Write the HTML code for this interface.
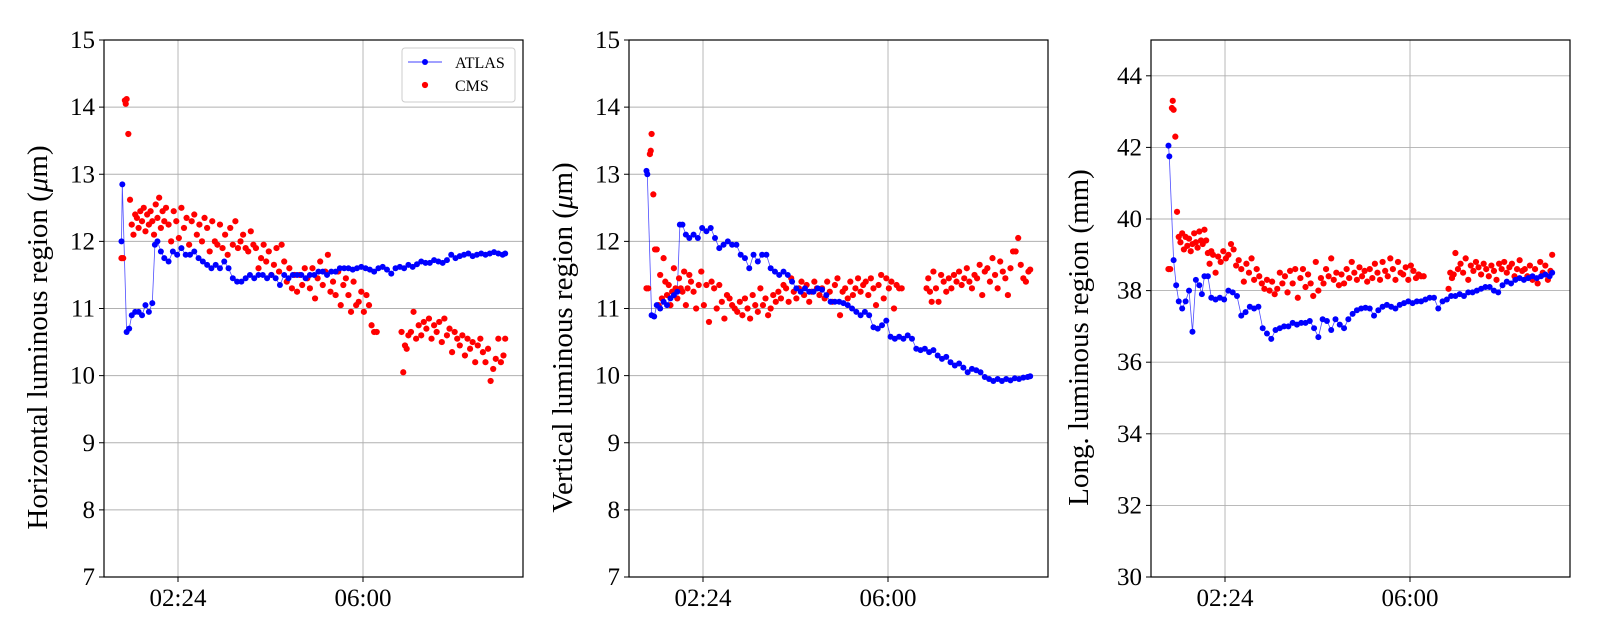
<!DOCTYPE html>
<html><head><meta charset="utf-8"><style>
html,body{margin:0;padding:0;background:#fff;}
svg{display:block;font-family:"Liberation Serif",serif;}
</style></head><body>
<svg id="fig" width="1600" height="640" viewBox="0 0 1600 640" xmlns="http://www.w3.org/2000/svg"></svg>
<script>
// shared time axes (minutes after midnight)
const tA = [78,79,84,87,90,94,98,102,106,110,114,117,120,124,128,
133,138,143,148,153,158,163,168,173,178,183,188,193,198,203,
208,213,218,223,228,233,238,243,248,253,258,263,268,273,278,
283,288,293,298,303,308,313,318,323,328,333,338,343,348,353,
358,363,368,373,378,383,388,393,398,403,408,413,418,423,428,
433,438,443,448,453,458,463,468,473,478,483,488,493,498,503,
508,513,518,523,526];
const cmsT = [78,80,82,83,84,86,88,90,92,94,96,98,100,102,104,106,108,110,112,114,116,118,120,122,124,126,128,130,
133,136,139,142,145,148,151,154,157,160,163,166,169,172,175,178,
181,184,187,190,193,196,199,202,205,208,211,214,217,220,223,226,229,
232,235,238,241,244,247,250,253,256,259,262,265,268,271,274,277,280,
283,286,289,292,295,298,301,304,307,310,313,316,319,322,325,328,331,
334,337,340,343,346,349,352,355,358,361,364,367,370,373,376,
405,407,409,411,413,416,419,422,425,428,431,434,437,440,443,446,449,452,455,458,461,464,467,470,473,476,479,482,485,488,491,494,497,500,503,506,509,512,515,518,521,524,526];

const atlasH = [12.0,12.85,10.65,10.7,10.9,10.95,10.95,10.9,11.05,10.95,11.08,11.95,12.0,11.85,11.75,
11.7,11.85,11.8,11.9,11.8,11.8,11.85,11.75,11.7,11.65,11.6,11.65,11.6,11.7,11.6,
11.45,11.4,11.4,11.45,11.5,11.45,11.5,11.5,11.45,11.5,11.45,11.35,11.5,11.45,11.5,
11.5,11.5,11.45,11.5,11.5,11.55,11.55,11.5,11.55,11.55,11.6,11.6,11.6,11.58,11.6,
11.62,11.6,11.58,11.55,11.6,11.62,11.58,11.52,11.6,11.62,11.6,11.65,11.62,11.66,11.7,
11.68,11.68,11.72,11.7,11.68,11.72,11.8,11.75,11.78,11.8,11.82,11.78,11.8,11.82,11.8,
11.82,11.84,11.82,11.8,11.82];
const cmsH = [11.75,11.75,14.1,14.05,14.12,13.6,12.62,12.25,12.1,12.4,12.35,12.2,12.45,12.3,12.5,12.15,12.4,12.25,12.45,12.3,12.1,12.55,12.35,12.65,12.2,12.45,12.3,12.5,
12.25,12.0,12.45,12.3,12.05,12.5,12.2,12.35,11.95,12.3,12.4,12.1,12.25,12.0,12.35,12.2,
11.85,12.3,12.0,11.95,12.25,11.9,12.1,11.8,12.2,11.95,12.3,11.9,12.0,12.1,11.9,11.85,12.15,
11.95,11.9,11.6,11.75,11.95,11.7,11.85,11.5,11.65,11.9,11.55,11.95,11.7,11.4,11.6,11.3,11.5,
11.25,11.5,11.35,11.6,11.45,11.3,11.6,11.15,11.45,11.7,11.35,11.55,11.8,11.25,11.4,11.2,11.55,
11.05,11.35,11.45,11.2,10.95,11.4,11.05,11.1,11.25,10.95,11.2,11.05,10.75,10.65,10.65,
10.65,10.05,10.45,10.4,10.6,10.65,10.95,10.55,10.75,10.6,10.8,10.7,10.85,10.55,10.75,10.65,10.8,10.5,10.85,10.6,10.7,10.35,10.65,10.55,10.45,10.6,10.3,10.55,10.4,10.5,10.2,10.45,10.55,10.35,10.2,10.4,9.92,10.1,10.25,10.55,10.2,10.3,10.55];

const atlasV = [13.05,13.0,10.9,10.88,11.05,11.0,11.1,11.05,11.15,11.2,11.25,12.25,12.25,12.1,12.05,
12.1,12.05,12.2,12.15,12.2,12.05,11.9,11.95,12.0,11.95,11.95,11.8,11.75,11.6,11.8,
11.7,11.8,11.8,11.6,11.55,11.5,11.55,11.5,11.4,11.3,11.25,11.3,11.25,11.25,11.3,
11.28,11.2,11.1,11.1,11.1,11.08,11.05,11.0,10.95,10.9,10.95,10.9,10.72,10.7,10.75,
10.82,10.58,10.55,10.58,10.55,10.6,10.55,10.4,10.38,10.4,10.35,10.38,10.3,10.25,10.28,
10.2,10.15,10.18,10.12,10.05,10.1,10.08,10.05,9.98,9.95,9.92,9.95,9.92,9.95,9.93,
9.96,9.95,9.97,9.98,9.99];
const cmsV = [11.3,11.3,13.3,13.35,13.6,12.7,11.88,11.88,11.05,11.5,11.15,11.75,11.4,11.2,11.35,11.05,11.25,11.6,11.3,11.15,11.45,11.3,11.25,11.55,11.05,11.3,11.5,11.4,
11.25,11.0,11.35,11.55,11.05,11.35,10.8,11.4,11.3,11.0,11.35,11.1,10.85,11.2,11.15,11.05,
11.0,10.95,11.1,10.9,11.15,11.0,10.85,11.2,11.05,10.95,11.3,11.05,11.15,10.9,11.0,11.2,11.1,
11.25,11.15,11.35,11.3,11.1,11.45,11.25,11.15,11.3,11.4,11.2,11.35,11.1,11.25,11.4,11.3,11.2,
11.3,11.15,11.4,11.25,11.1,11.35,11.45,10.9,11.25,11.3,11.15,11.4,11.2,11.3,11.45,11.25,11.35,
11.4,11.2,11.45,11.3,11.05,11.35,11.5,11.15,11.45,11.3,11.4,11.0,11.35,11.3,11.3,
11.3,11.45,11.25,11.1,11.55,11.3,11.1,11.5,11.4,11.25,11.45,11.3,11.5,11.4,11.55,11.35,11.45,11.6,11.4,11.3,11.5,11.45,11.65,11.2,11.55,11.6,11.4,11.75,11.5,11.3,11.7,11.55,11.45,11.2,11.6,11.85,11.85,12.05,11.65,11.45,11.4,11.55,11.58];

const atlasL = [42.05,41.75,38.85,38.15,37.7,37.5,37.7,38.0,36.85,38.3,38.15,37.9,38.4,38.4,37.8,
37.75,37.8,37.75,38.0,37.95,37.85,37.3,37.4,37.55,37.5,37.55,36.95,36.8,36.65,36.9,
36.95,37.0,37.0,37.1,37.05,37.1,37.1,37.15,36.95,36.7,37.2,37.15,36.9,37.2,37.05,
36.95,37.2,37.35,37.45,37.5,37.52,37.5,37.3,37.45,37.55,37.6,37.55,37.5,37.6,37.65,
37.7,37.65,37.7,37.7,37.75,37.8,37.8,37.5,37.7,37.75,37.85,37.85,37.9,37.85,37.95,
37.95,38.0,38.05,38.1,38.1,38.0,37.95,38.15,38.25,38.2,38.3,38.35,38.3,38.35,38.4,
38.35,38.4,38.45,38.4,38.5];
const cmsL = [38.6,38.6,43.1,43.3,43.05,42.3,40.2,39.5,39.35,39.6,39.15,39.5,39.25,39.45,39.1,39.3,39.6,39.35,39.2,39.65,39.4,39.3,39.7,39.4,39.05,38.75,39.1,39.0,
38.5,38.95,38.8,39.1,38.9,39.0,39.3,39.15,38.7,38.85,38.6,38.25,38.75,38.5,38.9,38.3,
38.6,38.4,38.2,38.05,38.3,38.0,38.25,37.9,38.05,38.5,38.2,38.4,37.95,38.55,38.2,38.6,37.8,
38.35,38.6,38.1,38.45,38.2,37.85,38.8,38.0,38.35,38.2,38.6,38.4,38.9,38.3,38.5,38.15,38.45,
38.2,38.6,38.35,38.8,38.5,38.3,38.65,38.4,38.55,38.25,38.6,38.35,38.75,38.5,38.3,38.8,38.55,
38.4,38.9,38.6,38.3,38.8,38.5,38.45,38.65,38.3,38.7,38.55,38.35,38.45,38.4,38.4,
38.05,38.5,38.35,38.45,39.05,38.6,38.75,38.5,38.9,38.3,38.7,38.55,38.8,38.65,38.45,38.75,38.6,38.4,38.7,38.55,38.3,38.75,38.6,38.8,38.5,38.65,38.75,38.4,38.6,38.85,38.55,38.6,38.4,38.7,38.3,38.6,38.2,38.8,38.5,38.7,38.3,38.55,39.0];

const xTickVals = [144, 360];
const xTickLabels = ["02:24", "06:00"];
const yTicksHV = [7,8,9,10,11,12,13,14,15];
const yTicksL = [30,32,34,36,38,40,42,44];

const NS = "http://www.w3.org/2000/svg";
const svg = document.getElementById("fig");
function mk(tag, attrs, parent){ const e=document.createElementNS(NS,tag); for(const k in attrs) e.setAttribute(k,attrs[k]); (parent||svg).appendChild(e); return e; }

const panels = [
  {left:104, name:"horizontal", ymin:7, ymax:15, ticks:yTicksHV, atlas:atlasH, cms:cmsH, title:["Horizontal luminous region (","μ","m)"], tx:47, legend:true},
  {left:629, name:"vertical", ymin:7, ymax:15, ticks:yTicksHV, atlas:atlasV, cms:cmsV, title:["Vertical luminous region (","μ","m)"], tx:572, legend:false},
  {left:1151, name:"longitudinal", ymin:30, ymax:45, ticks:yTicksL, atlas:atlasL, cms:cmsL, title:["Long. luminous region (mm)"], tx:1088, legend:false}
];
const TOP=40, BOT=577, W=419, XMIN=57.6, XMAX=546.8;

panels.forEach(p=>{
  const g = mk("g",{});
  
  
  const xs = t => p.left + (t-XMIN)/(XMAX-XMIN)*W;
  const ys = v => BOT - (v-p.ymin)/(p.ymax-p.ymin)*(BOT-TOP);
  p.ticks.forEach(v=>{
    if(v===p.ymin||v===p.ymax) return;
    const l=mk("line",{x1:p.left,x2:p.left+W,y1:ys(v),y2:ys(v),stroke:"#b0b0b0","stroke-width":0.9},g);
    
    
  });
  xTickVals.forEach(t=>{
    const l=mk("line",{x1:xs(t),x2:xs(t),y1:TOP,y2:BOT,stroke:"#b0b0b0","stroke-width":0.9},g);
    
    
  });
  const pts = p.atlas.map((v,i)=>xs(tA[i]).toFixed(1)+","+ys(v).toFixed(1)).join(" ");
  const pl = mk("polyline",{points:pts,fill:"none",stroke:"#0000ff","stroke-width":0.8,"stroke-opacity":0.7},g);
  
  
  p.cms.forEach((v,i)=>{
    if(i>=cmsT.length) return;
    const c=mk("circle",{cx:xs(cmsT[i]),cy:ys(v),r:3.1,fill:"#ff0000"},g);
    
    
  });
  p.atlas.forEach((v,i)=>{
    const c=mk("circle",{cx:xs(tA[i]),cy:ys(v),r:3,fill:"#0000ff"},g);
    
    
  });
  const fr=mk("rect",{x:p.left,y:TOP,width:W,height:BOT-TOP,fill:"none",stroke:"#000","stroke-width":1.2},g);
  
  
  p.ticks.forEach(v=>{
    mk("line",{x1:p.left-5,x2:p.left,y1:ys(v),y2:ys(v),stroke:"#000","stroke-width":1},g);
    const t=mk("text",{x:p.left-9,y:ys(v)+8,"text-anchor":"end","font-size":25,fill:"#000"},g);
    t.textContent=v;
    
    
  });
  xTickVals.forEach((tv,i)=>{
    mk("line",{x1:xs(tv),x2:xs(tv),y1:BOT,y2:BOT+5,stroke:"#000","stroke-width":1},g);
    const t=mk("text",{x:xs(tv),y:BOT+29,"text-anchor":"middle","font-size":25,fill:"#000"},g);
    t.textContent=xTickLabels[i];
    
    
  });
  const yc=(TOP+BOT)/2+29;
  const tt=mk("text",{x:p.tx,y:yc,"text-anchor":"middle","font-size":29,fill:"#000",transform:`rotate(-90 ${p.tx} ${yc})`},g);
  p.title.forEach((s,i)=>{ const ts=mk("tspan",{},tt); if(i===1) ts.setAttribute("font-style","italic"); ts.textContent=s; });
  
  
  if(p.legend){
    const lg=mk("g",{},g);
    
    
    mk("rect",{x:402,y:48,width:113,height:54,rx:3,fill:"#fff","fill-opacity":0.8,stroke:"#cccccc","stroke-width":1},lg);
    mk("line",{x1:408,x2:442,y1:62,y2:62,stroke:"#0000ff","stroke-width":0.8},lg);
    mk("circle",{cx:425,cy:62,r:3,fill:"#0000ff"},lg);
    const a=mk("text",{x:455,y:68,"font-size":16,fill:"#000"},lg); a.textContent="ATLAS";
    
    
    mk("circle",{cx:425,cy:85,r:3.1,fill:"#ff0000"},lg);
    const c=mk("text",{x:455,y:91,"font-size":16,fill:"#000"},lg); c.textContent="CMS";
    
    
  }
});
</script>
</body></html>
